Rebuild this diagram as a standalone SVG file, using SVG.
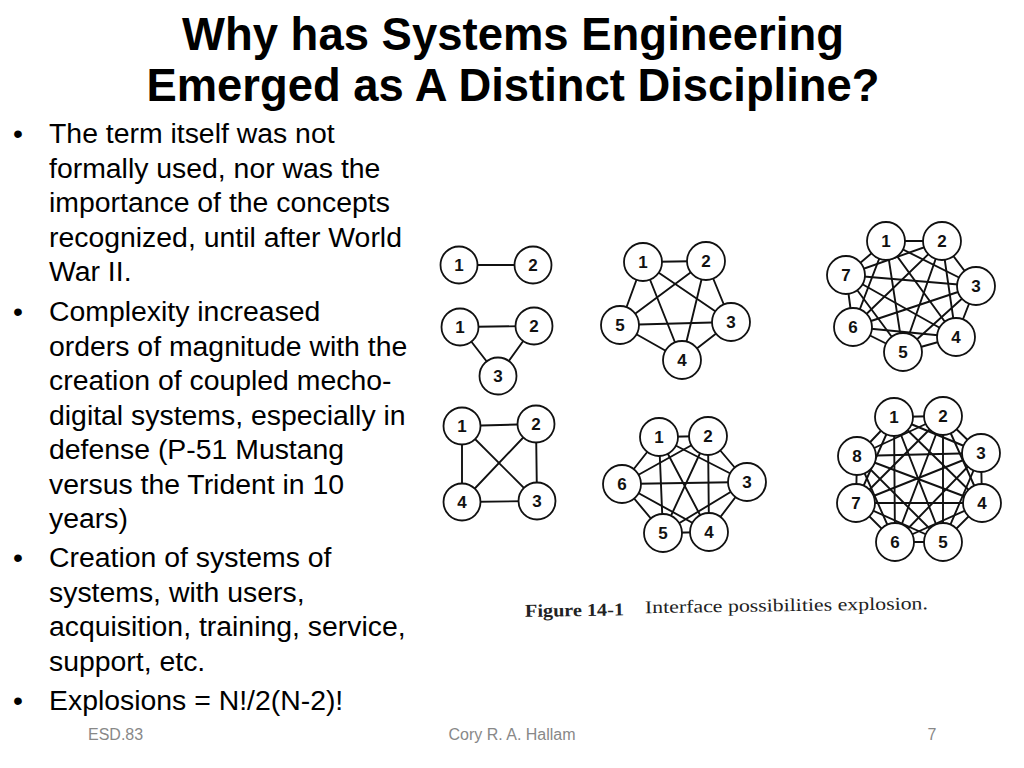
<svg xmlns="http://www.w3.org/2000/svg" width="1024" height="768" viewBox="0 0 1024 768">
<style>
.title{font-family:"Liberation Sans",Arial,sans-serif;font-weight:bold;font-size:46.5px;fill:#000;text-anchor:middle}
.body{font-family:"Liberation Sans",Arial,sans-serif;font-size:28.4px;fill:#000}
.foot{font-family:"Liberation Sans",Arial,sans-serif;font-size:16px;fill:#888}
.cap{font-family:"Liberation Serif","Times New Roman",serif;font-size:18px;fill:#222}
.edges line{stroke:#111;stroke-width:1.9;stroke-linecap:round}
.node circle{fill:#fff;stroke:#111;stroke-width:1.8}
.node text{font-family:"Liberation Sans",Arial,sans-serif;font-weight:bold;font-size:17px;fill:#111;text-anchor:middle}
</style>
<rect width="1024" height="768" fill="#fff"/>
<g id="title">
<text class="title" x="513" y="50" textLength="662" lengthAdjust="spacingAndGlyphs">Why has Systems Engineering</text>
<text class="title" x="513" y="100.5" textLength="733" lengthAdjust="spacingAndGlyphs">Emerged as A Distinct Discipline?</text>
</g>
<g id="bullets" class="body">
<text x="13" y="143">•</text>
<text x="49" y="143">The term itself was not</text>
<text x="49" y="177.5">formally used, nor was the</text>
<text x="49" y="212">importance of the concepts</text>
<text x="49" y="246.5">recognized, until after World</text>
<text x="49" y="281">War II.</text>
<text x="13" y="321">•</text>
<text x="49" y="321">Complexity increased</text>
<text x="49" y="355.5">orders of magnitude with the</text>
<text x="49" y="390">creation of coupled mecho-</text>
<text x="49" y="424.5">digital systems, especially in</text>
<text x="49" y="459">defense (P-51 Mustang</text>
<text x="49" y="493.5">versus the Trident in 10</text>
<text x="49" y="528">years)</text>
<text x="13" y="567">•</text>
<text x="49" y="567">Creation of systems of</text>
<text x="49" y="601.5">systems, with users,</text>
<text x="49" y="636">acquisition, training, service,</text>
<text x="49" y="670.5">support, etc.</text>
<text x="13" y="710">•</text>
<text x="49" y="710">Explosions = N!/2(N-2)!</text>
</g>
<g id="connectors" class="edges">
<line x1="459" y1="265" x2="533" y2="265"/>
<line x1="460" y1="327" x2="534" y2="326"/>
<line x1="460" y1="327" x2="498" y2="376"/>
<line x1="534" y1="326" x2="498" y2="376"/>
<line x1="462" y1="426" x2="536" y2="424"/>
<line x1="462" y1="426" x2="537" y2="501"/>
<line x1="462" y1="426" x2="462" y2="502"/>
<line x1="536" y1="424" x2="537" y2="501"/>
<line x1="536" y1="424" x2="462" y2="502"/>
<line x1="537" y1="501" x2="462" y2="502"/>
<line x1="643" y1="262" x2="706" y2="261"/>
<line x1="643" y1="262" x2="731" y2="322"/>
<line x1="643" y1="262" x2="682" y2="360"/>
<line x1="643" y1="262" x2="620" y2="325"/>
<line x1="706" y1="261" x2="731" y2="322"/>
<line x1="706" y1="261" x2="682" y2="360"/>
<line x1="706" y1="261" x2="620" y2="325"/>
<line x1="731" y1="322" x2="682" y2="360"/>
<line x1="731" y1="322" x2="620" y2="325"/>
<line x1="682" y1="360" x2="620" y2="325"/>
<line x1="659" y1="437" x2="708" y2="436"/>
<line x1="659" y1="437" x2="747" y2="482"/>
<line x1="659" y1="437" x2="709" y2="532"/>
<line x1="659" y1="437" x2="663" y2="533"/>
<line x1="659" y1="437" x2="622" y2="484"/>
<line x1="708" y1="436" x2="747" y2="482"/>
<line x1="708" y1="436" x2="709" y2="532"/>
<line x1="708" y1="436" x2="663" y2="533"/>
<line x1="708" y1="436" x2="622" y2="484"/>
<line x1="747" y1="482" x2="709" y2="532"/>
<line x1="747" y1="482" x2="663" y2="533"/>
<line x1="747" y1="482" x2="622" y2="484"/>
<line x1="709" y1="532" x2="663" y2="533"/>
<line x1="709" y1="532" x2="622" y2="484"/>
<line x1="663" y1="533" x2="622" y2="484"/>
<line x1="886" y1="241" x2="942" y2="241"/>
<line x1="886" y1="241" x2="976" y2="286"/>
<line x1="886" y1="241" x2="956" y2="337"/>
<line x1="886" y1="241" x2="903" y2="352"/>
<line x1="886" y1="241" x2="853" y2="327"/>
<line x1="886" y1="241" x2="846" y2="275"/>
<line x1="942" y1="241" x2="976" y2="286"/>
<line x1="942" y1="241" x2="956" y2="337"/>
<line x1="942" y1="241" x2="903" y2="352"/>
<line x1="942" y1="241" x2="853" y2="327"/>
<line x1="942" y1="241" x2="846" y2="275"/>
<line x1="976" y1="286" x2="956" y2="337"/>
<line x1="976" y1="286" x2="903" y2="352"/>
<line x1="976" y1="286" x2="853" y2="327"/>
<line x1="976" y1="286" x2="846" y2="275"/>
<line x1="956" y1="337" x2="903" y2="352"/>
<line x1="956" y1="337" x2="853" y2="327"/>
<line x1="956" y1="337" x2="846" y2="275"/>
<line x1="903" y1="352" x2="853" y2="327"/>
<line x1="903" y1="352" x2="846" y2="275"/>
<line x1="853" y1="327" x2="846" y2="275"/>
<line x1="894" y1="417" x2="943" y2="416"/>
<line x1="894" y1="417" x2="981" y2="453"/>
<line x1="894" y1="417" x2="982" y2="503"/>
<line x1="894" y1="417" x2="943" y2="542"/>
<line x1="894" y1="417" x2="895" y2="542"/>
<line x1="894" y1="417" x2="856" y2="503"/>
<line x1="894" y1="417" x2="857" y2="456"/>
<line x1="943" y1="416" x2="981" y2="453"/>
<line x1="943" y1="416" x2="982" y2="503"/>
<line x1="943" y1="416" x2="943" y2="542"/>
<line x1="943" y1="416" x2="895" y2="542"/>
<line x1="943" y1="416" x2="856" y2="503"/>
<line x1="943" y1="416" x2="857" y2="456"/>
<line x1="981" y1="453" x2="982" y2="503"/>
<line x1="981" y1="453" x2="943" y2="542"/>
<line x1="981" y1="453" x2="895" y2="542"/>
<line x1="981" y1="453" x2="856" y2="503"/>
<line x1="981" y1="453" x2="857" y2="456"/>
<line x1="982" y1="503" x2="943" y2="542"/>
<line x1="982" y1="503" x2="895" y2="542"/>
<line x1="982" y1="503" x2="856" y2="503"/>
<line x1="982" y1="503" x2="857" y2="456"/>
<line x1="943" y1="542" x2="895" y2="542"/>
<line x1="943" y1="542" x2="856" y2="503"/>
<line x1="943" y1="542" x2="857" y2="456"/>
<line x1="895" y1="542" x2="856" y2="503"/>
<line x1="895" y1="542" x2="857" y2="456"/>
<line x1="856" y1="503" x2="857" y2="456"/>
</g>
<g id="k2-1" class="node"><circle cx="459" cy="265" r="18.5"/><text x="459" y="271">1</text></g>
<g id="k2-2" class="node"><circle cx="533" cy="265" r="18.5"/><text x="533" y="271">2</text></g>
<g id="k3-1" class="node"><circle cx="460" cy="327" r="18.5"/><text x="460" y="333">1</text></g>
<g id="k3-2" class="node"><circle cx="534" cy="326" r="18.5"/><text x="534" y="332">2</text></g>
<g id="k3-3" class="node"><circle cx="498" cy="376" r="18.5"/><text x="498" y="382">3</text></g>
<g id="k4-1" class="node"><circle cx="462" cy="426" r="18.5"/><text x="462" y="432">1</text></g>
<g id="k4-2" class="node"><circle cx="536" cy="424" r="18.5"/><text x="536" y="430">2</text></g>
<g id="k4-3" class="node"><circle cx="537" cy="501" r="18.5"/><text x="537" y="507">3</text></g>
<g id="k4-4" class="node"><circle cx="462" cy="502" r="18.5"/><text x="462" y="508">4</text></g>
<g id="k5-1" class="node"><circle cx="643" cy="262" r="19"/><text x="643" y="268">1</text></g>
<g id="k5-2" class="node"><circle cx="706" cy="261" r="19"/><text x="706" y="267">2</text></g>
<g id="k5-3" class="node"><circle cx="731" cy="322" r="19"/><text x="731" y="328">3</text></g>
<g id="k5-4" class="node"><circle cx="682" cy="360" r="19"/><text x="682" y="366">4</text></g>
<g id="k5-5" class="node"><circle cx="620" cy="325" r="19"/><text x="620" y="331">5</text></g>
<g id="k6-1" class="node"><circle cx="659" cy="437" r="19"/><text x="659" y="443">1</text></g>
<g id="k6-2" class="node"><circle cx="708" cy="436" r="19"/><text x="708" y="442">2</text></g>
<g id="k6-3" class="node"><circle cx="747" cy="482" r="19"/><text x="747" y="488">3</text></g>
<g id="k6-4" class="node"><circle cx="709" cy="532" r="19"/><text x="709" y="538">4</text></g>
<g id="k6-5" class="node"><circle cx="663" cy="533" r="19"/><text x="663" y="539">5</text></g>
<g id="k6-6" class="node"><circle cx="622" cy="484" r="19"/><text x="622" y="490">6</text></g>
<g id="k7-1" class="node"><circle cx="886" cy="241" r="19"/><text x="886" y="247">1</text></g>
<g id="k7-2" class="node"><circle cx="942" cy="241" r="19"/><text x="942" y="247">2</text></g>
<g id="k7-3" class="node"><circle cx="976" cy="286" r="19"/><text x="976" y="292">3</text></g>
<g id="k7-4" class="node"><circle cx="956" cy="337" r="19"/><text x="956" y="343">4</text></g>
<g id="k7-5" class="node"><circle cx="903" cy="352" r="19"/><text x="903" y="358">5</text></g>
<g id="k7-6" class="node"><circle cx="853" cy="327" r="19"/><text x="853" y="333">6</text></g>
<g id="k7-7" class="node"><circle cx="846" cy="275" r="19"/><text x="846" y="281">7</text></g>
<g id="k8-1" class="node"><circle cx="894" cy="417" r="19"/><text x="894" y="423">1</text></g>
<g id="k8-2" class="node"><circle cx="943" cy="416" r="19"/><text x="943" y="422">2</text></g>
<g id="k8-3" class="node"><circle cx="981" cy="453" r="19"/><text x="981" y="459">3</text></g>
<g id="k8-4" class="node"><circle cx="982" cy="503" r="19"/><text x="982" y="509">4</text></g>
<g id="k8-5" class="node"><circle cx="943" cy="542" r="19"/><text x="943" y="548">5</text></g>
<g id="k8-6" class="node"><circle cx="895" cy="542" r="19"/><text x="895" y="548">6</text></g>
<g id="k8-7" class="node"><circle cx="856" cy="503" r="19"/><text x="856" y="509">7</text></g>
<g id="k8-8" class="node"><circle cx="857" cy="456" r="19"/><text x="857" y="462">8</text></g>
<g id="caption" transform="rotate(-0.8 726 611)">
<text class="cap" x="525" y="614" font-weight="bold" textLength="99" lengthAdjust="spacingAndGlyphs">Figure 14-1</text>
<text class="cap" x="645" y="612" textLength="283" lengthAdjust="spacingAndGlyphs">Interface possibilities explosion.</text>
</g>
<g id="footer" class="foot">
<text x="88" y="740">ESD.83</text>
<text x="512" y="740" text-anchor="middle">Cory R. A. Hallam</text>
<text x="932" y="740" text-anchor="middle">7</text>
</g>
</svg>
